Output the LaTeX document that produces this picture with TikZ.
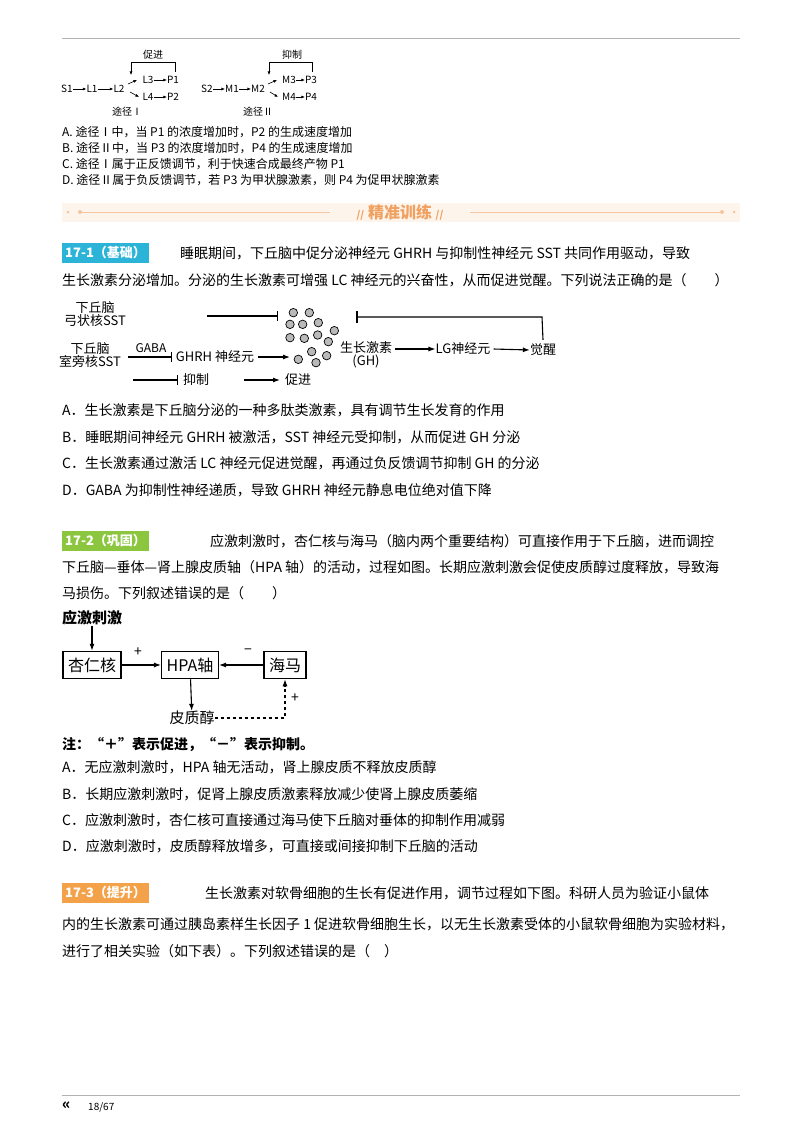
\documentclass[tikz,border=0pt]{standalone}
\usepackage{fontspec}
\setmainfont{Noto Sans CJK SC}
\usetikzlibrary{arrows.meta}
\definecolor{cyanlab}{HTML}{2BB3D8}
\definecolor{greenlab}{HTML}{8CC63F}
\definecolor{orangelab}{HTML}{F4A24A}
\definecolor{hdrbg}{HTML}{FDF5EC}
\definecolor{hdrfg}{HTML}{F0A060}
\tikzset{
 t/.style={anchor=west,inner sep=0pt,font=\fontsize{14}{14}\selectfont},
 ts/.style={anchor=west,inner sep=0pt,font=\fontsize{12}{12}\selectfont},
 tt/.style={inner sep=0pt,font=\fontsize{10}{10}\selectfont},
 dg/.style={inner sep=0pt,font=\fontsize{13}{13}\selectfont},
 arr/.style={-{Latex[length=7pt,width=5pt]},line width=1.1pt},
 sarr/.style={-{Latex[length=3.5pt,width=3pt]},line width=0.6pt},
 inh/.style={-{Bar[width=10pt]},line width=1.1pt},
 bx/.style={draw,line width=1.5pt,minimum height=27pt,inner xsep=5pt,font=\fontsize{16}{16}\selectfont},
 lab/.style={anchor=west,inner xsep=3pt,minimum height=18pt,text=white,font=\fontsize{13}{13}\selectfont\bfseries},
 ball/.style={circle,draw,fill=gray!55,minimum size=8.5pt,inner sep=0pt,line width=0.7pt}
}
\begin{document}
\begin{tikzpicture}[x=1pt,y=-1pt]
\useasboundingbox[fill=white] (0,0) rectangle (800,1132);
\draw[gray!60,line width=0.6pt] (62,38) -- (740,38);
% diagram 1
\node[tt] (a1) at (67,89) {S1};
\node[tt] (a2) at (92,89) {L1};
\node[tt] (a3) at (119,89) {L2};
\node[tt] (a4) at (148,80) {L3};
\node[tt] (a5) at (173,80) {P1};
\node[tt] (a6) at (148,97) {L4};
\node[tt] (a7) at (173,97) {P2};
\draw[sarr] (a1) -- (a2); \draw[sarr] (a2) -- (a3);
\draw[sarr] (128,84) -- (137,80); \draw[sarr] (130,92) -- (139,97);
\draw[sarr] (a4) -- (a5); \draw[sarr] (a6) -- (a7);
\draw[sarr] (175,72) -- (175,62) -- (131,62) -- (131,75);
\node[tt] (a8) at (153,55) {促进};
\node[tt] (a9) at (127,112) {途径Ⅰ};
\node[tt] (b1) at (207,89) {S2};
\node[tt] (b2) at (232,89) {M1};
\node[tt] (b3) at (258,89) {M2};
\node[tt] (b4) at (289,80) {M3};
\node[tt] (b5) at (311,80) {P3};
\node[tt] (b6) at (289,97) {M4};
\node[tt] (b7) at (311,97) {P4};
\draw[sarr] (b1) -- (b2); \draw[sarr] (b2) -- (b3);
\draw[sarr] (268,84) -- (277,80); \draw[sarr] (270,92) -- (278,97);
\draw[sarr] (b4) -- (b5); \draw[sarr] (b6) -- (b7);
\draw[sarr] (312,72) -- (312,62) -- (269,62) -- (269,75);
\node[tt] (b8) at (292,55) {抑制};
\node[tt] (b9) at (258,112) {途径Ⅱ};
\node[ts] at (62,132) {A. 途径Ⅰ中，当 P1 的浓度增加时，P2 的生成速度增加};
\node[ts] at (62,148) {B. 途径Ⅱ中，当 P3 的浓度增加时，P4 的生成速度增加};
\node[ts] at (62,164) {C. 途径Ⅰ属于正反馈调节，利于快速合成最终产物 P1};
\node[ts] at (62,180) {D. 途径Ⅱ属于负反馈调节，若 P3 为甲状腺激素，则 P4 为促甲状腺激素};
% header
\fill[hdrbg] (62,203) rectangle (740,222);
\draw[hdrfg!60,line width=0.8pt] (80,212) -- (330,212) (470,212) -- (722,212);
\fill[hdrfg!60] (80,212) circle (2pt) (722,212) circle (2pt) (68,212) circle (1.5pt) (734,212) circle (1.5pt);
\node[inner sep=0pt,text=hdrfg,font=\fontsize{16}{16}\selectfont\bfseries] (hd) at (400,212) {\textit{\fontsize{10}{10}\selectfont //}\ 精准训练\ \textit{\fontsize{10}{10}\selectfont //}};
% 17-1
\node[lab,fill=cyanlab] (l1) at (62,253) {17-1（基础）};
\node[t] at (180,253) {睡眠期间，下丘脑中促分泌神经元 GHRH 与抑制性神经元 SST 共同作用驱动，导致};
\node[t] at (62,280) {生长激素分泌增加。分泌的生长激素可增强 LC 神经元的兴奋性，从而促进觉醒。下列说法正确的是（　　）};
% diagram 2
\node[dg,align=center] (c1) at (95,314) {下丘脑\\弓状核SST};
\node[dg,align=center] (c2) at (90,355) {下丘脑\\室旁核SST};
\foreach \zx/\zy [count=\i] in {700/68,748/68,690/103,728/103,775/98,823/122,690/143,733/145,773/135,805/155,755/185,800/197,715/208,768/218}
 \node[ball] (g\i) at ({60+\zx/3},{290+\zy/3}) {};
\node[dg] (c3) at (215,357) {GHRH 神经元};
\node[dg,align=center] (c4) at (366,355) {生长激素\\(GH)};
\node[dg] (c5) at (463,349) {LG神经元};
\node[dg] (c6) at (543,350) {觉醒};
\draw[inh] (207,316) -- (278,316);
\draw[inh] (128,357) -- (172,357);
\node[dg,font=\fontsize{12}{12}\selectfont] at (151,348) {GABA};
\draw[arr] (c3.east) ++(4,0) -- (290,357);
\draw[arr] (c4.east |- c5) ++(3,0) -- (c5.west);
\draw[arr] (c5.east) ++(3,0) -- (c6.west);
\draw[line width=1.1pt] (c6.north) ++(0,-4) -- (542,317) -- (358,317);
\draw[line width=1.1pt] (357,311) -- (357,323);
\draw[inh] (133,380) -- (178,380);
\node[dg] (c7) at (196,380) {抑制};
\draw[arr] (244,380) -- (280,380);
\node[dg] (c8) at (298,380) {促进};
\node[t] at (62,410) {A．生长激素是下丘脑分泌的一种多肽类激素，具有调节生长发育的作用};
\node[t] at (62,437) {B．睡眠期间神经元 GHRH 被激活，SST 神经元受抑制，从而促进 GH 分泌};
\node[t] at (62,463) {C．生长激素通过激活 LC 神经元促进觉醒，再通过负反馈调节抑制 GH 的分泌};
\node[t] at (62,490) {D．GABA 为抑制性神经递质，导致 GHRH 神经元静息电位绝对值下降};
% 17-2
\node[lab,fill=greenlab] (l2) at (62,541) {17-2（巩固）};
\node[t] at (210,541) {应激刺激时，杏仁核与海马（脑内两个重要结构）可直接作用于下丘脑，进而调控};
\node[t] at (62,567) {下丘脑—垂体—肾上腺皮质轴（HPA 轴）的活动，过程如图。长期应激刺激会促使皮质醇过度释放，导致海};
\node[t] at (62,593) {马损伤。下列叙述错误的是（　　）};
\node[inner sep=0pt,font=\fontsize{15}{15}\selectfont\bfseries] (d0) at (92,618) {应激刺激};
\node[bx] (d1) at (92,665) {杏仁核};
\node[bx] (d2) at (190,665) {HPA轴};
\node[bx] (d3) at (285,665) {海马};
\node[inner sep=0pt,font=\fontsize{15}{15}\selectfont] (d4) at (192,718) {皮质醇};
\draw[arr] (d0) -- (d1);
\draw[arr] (d1) -- (d2);
\draw[arr] (d3) -- (d2);
\draw[arr] (d2) -- (d4);
\draw[arr,dashed] (d4.east) -- (d3 |- d4) -- (d3.south);
\node[inner sep=0pt,font=\fontsize{14}{14}\selectfont] at (138,652) {+};
\node[inner sep=0pt,font=\fontsize{14}{14}\selectfont] at (248,652) {−};
\node[inner sep=0pt,font=\fontsize{14}{14}\selectfont] at (295,698) {+};
\node[anchor=west,inner sep=0pt,font=\fontsize{14}{14}\selectfont\bfseries] at (62,745) {注：“＋”表示促进，“－”表示抑制。};
\node[t] at (62,767) {A．无应激刺激时，HPA 轴无活动，肾上腺皮质不释放皮质醇};
\node[t] at (62,794) {B．长期应激刺激时，促肾上腺皮质激素释放减少使肾上腺皮质萎缩};
\node[t] at (62,820) {C．应激刺激时，杏仁核可直接通过海马使下丘脑对垂体的抑制作用减弱};
\node[t] at (62,846) {D．应激刺激时，皮质醇释放增多，可直接或间接抑制下丘脑的活动};
% 17-3
\node[lab,fill=orangelab] (l3) at (62,893) {17-3（提升）};
\node[t] at (205,893) {生长激素对软骨细胞的生长有促进作用，调节过程如下图。科研人员为验证小鼠体};
\node[t] at (62,924) {内的生长激素可通过胰岛素样生长因子 1 促进软骨细胞生长，以无生长激素受体的小鼠软骨细胞为实验材料，};
\node[t] at (62,951) {进行了相关实验（如下表）。下列叙述错误的是（　）};
% footer
\draw[gray!60,line width=0.6pt] (62,1095) -- (740,1095);
\node[anchor=west,inner sep=0pt,font=\fontsize{15}{15}\selectfont\bfseries] (fq) at (62,1106) {«};
\node[anchor=west,inner sep=0pt,font=\fontsize{10}{10}\selectfont] (ft) at (88,1107) {18/67};
\end{tikzpicture}
\end{document}
